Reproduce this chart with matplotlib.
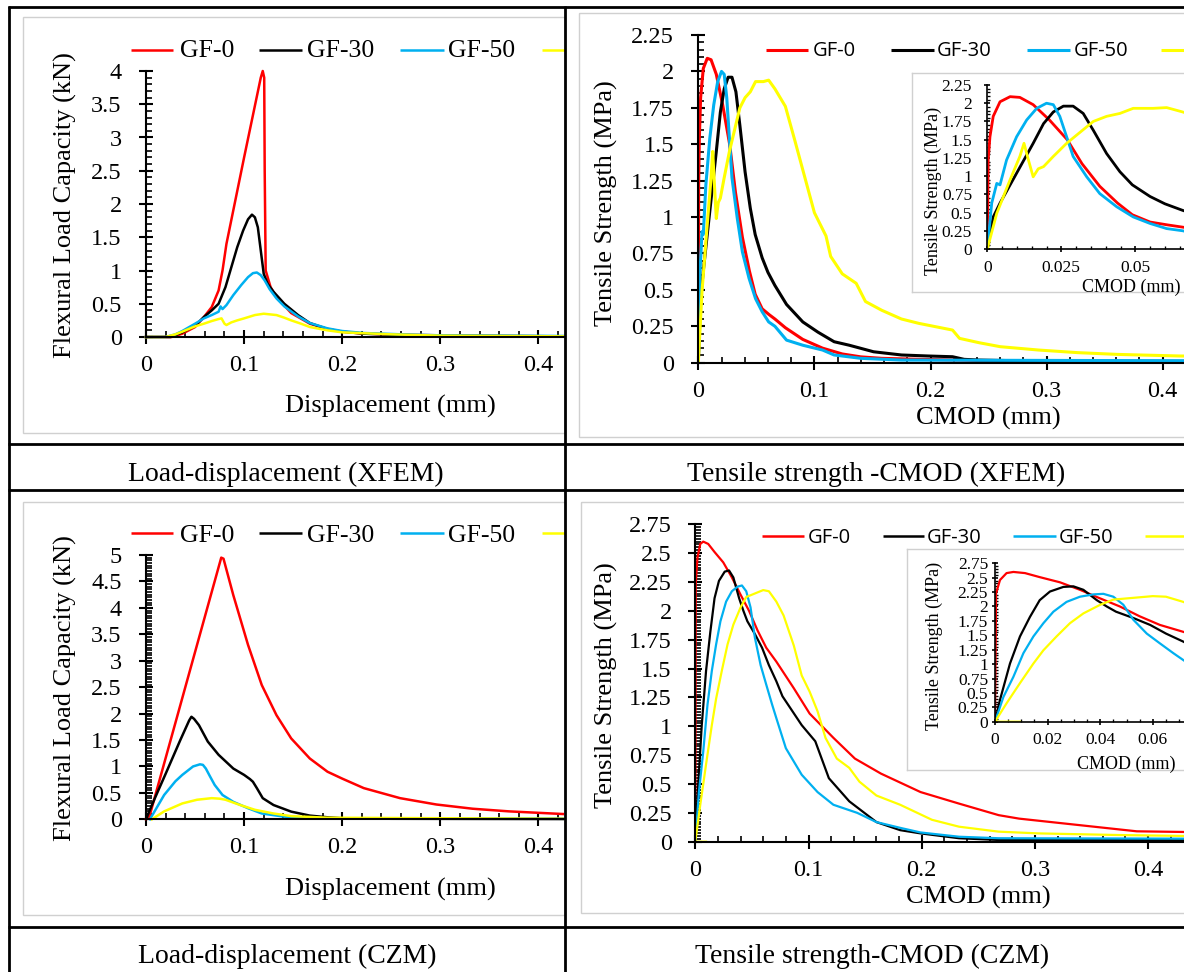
import matplotlib
matplotlib.use('Agg')
import matplotlib.pyplot as plt
from matplotlib.ticker import MultipleLocator, FuncFormatter
from matplotlib.patches import Rectangle

W, H = 1184, 972

# ---- data ----
series_names = ['GF-0', 'GF-30', 'GF-50']
series_colors = ['#FF0000', '#000000', '#00B0F0', '#FFFF00']

# Load-displacement (XFEM)
xa_gf0 = [0, 0.026, 0.037, 0.05, 0.059, 0.067, 0.074, 0.078, 0.082, 0.1, 0.117, 0.119, 0.1205, 0.121, 0.122,
          0.127, 0.133, 0.148, 0.167, 0.185, 0.2, 0.222, 0.26, 0.3, 0.35, 0.425]
ya_gf0 = [0, 0, 0.05, 0.15, 0.3, 0.45, 0.7, 1.0, 1.4, 2.7, 3.9, 4.0, 3.9, 2.5, 1.0,
          0.75, 0.6, 0.36, 0.2, 0.12, 0.08, 0.05, 0.035, 0.025, 0.015, 0.01]
xa_gf30 = [0, 0.025, 0.037, 0.05, 0.059, 0.067, 0.074, 0.081, 0.087, 0.093, 0.099, 0.104, 0.108, 0.111, 0.114,
           0.117, 0.12, 0.124, 0.13, 0.141, 0.155, 0.167, 0.185, 0.2, 0.222, 0.26, 0.3, 0.425]
ya_gf30 = [0, 0, 0.07, 0.17, 0.3, 0.4, 0.5, 0.75, 1.05, 1.35, 1.6, 1.77, 1.84, 1.8, 1.65,
           1.3, 0.95, 0.8, 0.68, 0.5, 0.33, 0.21, 0.12, 0.08, 0.05, 0.03, 0.02, 0.01]
xa_gf50 = [0, 0.02, 0.03, 0.037, 0.05, 0.059, 0.067, 0.074, 0.076, 0.078, 0.082, 0.089, 0.097, 0.104, 0.109,
           0.113, 0.117, 0.121, 0.126, 0.133, 0.141, 0.155, 0.167, 0.185, 0.2, 0.222, 0.26, 0.3, 0.425]
ya_gf50 = [0, 0, 0.04, 0.09, 0.2, 0.28, 0.33, 0.38, 0.46, 0.42, 0.48, 0.63, 0.78, 0.9, 0.96,
           0.97, 0.93, 0.85, 0.72, 0.58, 0.46, 0.31, 0.21, 0.13, 0.09, 0.06, 0.04, 0.025, 0.015]
xa_gfy = [0, 0.02, 0.03, 0.037, 0.05, 0.059, 0.067, 0.074, 0.077, 0.08, 0.082, 0.087, 0.093, 0.1, 0.111,
          0.12, 0.133, 0.141, 0.148, 0.158, 0.167, 0.185, 0.2, 0.25, 0.3, 0.425]
ya_gfy = [0, 0, 0.04, 0.08, 0.16, 0.2, 0.24, 0.27, 0.28, 0.2, 0.18, 0.22, 0.25, 0.28, 0.33,
          0.35, 0.33, 0.29, 0.25, 0.2, 0.15, 0.1, 0.07, 0.04, 0.02, 0.01]

# Tensile strength - CMOD (XFEM)
xb_gf0 = [0, 0.0003, 0.0009, 0.002, 0.0043, 0.0077, 0.011, 0.0155, 0.021, 0.027, 0.032, 0.038, 0.044, 0.049,
          0.055, 0.061, 0.066, 0.075, 0.09, 0.107, 0.124, 0.14, 0.158, 0.19, 0.225, 0.26, 0.35, 0.5]
yb_gf0 = [0, 1.22, 1.54, 1.82, 2.02, 2.09, 2.08, 1.98, 1.77, 1.5, 1.17, 0.86, 0.63, 0.47,
          0.37, 0.33, 0.3, 0.24, 0.16, 0.1, 0.06, 0.04, 0.03, 0.023, 0.018, 0.01, 0.005, 0.003]
xb_gf30 = [0, 0.002, 0.0043, 0.0099, 0.0155, 0.019, 0.0223, 0.0257, 0.029, 0.0324, 0.0358, 0.0403, 0.0448,
           0.049, 0.055, 0.06, 0.066, 0.076, 0.09, 0.103, 0.117, 0.13, 0.151, 0.175, 0.198, 0.219, 0.229,
           0.242, 0.293, 0.5]
yb_gf30 = [0, 0.44, 0.63, 1.04, 1.45, 1.72, 1.88, 1.96, 1.96, 1.86, 1.63, 1.31, 1.06,
           0.88, 0.72, 0.62, 0.53, 0.4, 0.28, 0.21, 0.144, 0.12, 0.075, 0.053, 0.046, 0.041, 0.023,
           0.018, 0.011, 0.008]
xb_gf50 = [0, 0.0015, 0.0032, 0.0043, 0.0065, 0.0099, 0.0133, 0.0167, 0.02, 0.0223, 0.0245, 0.0268, 0.029,
           0.0336, 0.038, 0.0437, 0.0493, 0.055, 0.0606, 0.066, 0.076, 0.09, 0.107, 0.117, 0.14, 0.175, 0.5]
yb_gf50 = [0, 0.63, 0.9, 0.88, 1.22, 1.54, 1.77, 1.93, 2.0, 1.98, 1.82, 1.54, 1.27,
           0.99, 0.76, 0.58, 0.44, 0.35, 0.28, 0.25, 0.155, 0.12, 0.087, 0.053, 0.03, 0.018, 0.012]
xb_gfy = [0, 0.0032, 0.0077, 0.011, 0.0124, 0.0139, 0.0155, 0.0172, 0.019, 0.0223, 0.0268, 0.0313, 0.0358,
          0.0403, 0.0448, 0.0493, 0.056, 0.0606, 0.066, 0.075, 0.083, 0.0915, 0.1, 0.11, 0.114, 0.124, 0.136,
          0.144, 0.158, 0.175, 0.19, 0.219, 0.225, 0.242, 0.26, 0.293, 0.327, 0.361, 0.415, 0.5]
yb_gfy = [0, 0.49, 0.95, 1.27, 1.45, 1.22, 0.99, 1.1, 1.13, 1.27, 1.45, 1.6, 1.75,
          1.82, 1.86, 1.93, 1.93, 1.94, 1.88, 1.76, 1.53, 1.28, 1.03, 0.87, 0.73, 0.61, 0.545,
          0.42, 0.36, 0.3, 0.27, 0.224, 0.167, 0.137, 0.11, 0.087, 0.069, 0.057, 0.046, 0.04]

# Load-displacement (CZM)
xc_gf0 = [0, 0.003, 0.0767, 0.079, 0.089, 0.104, 0.118, 0.133, 0.148, 0.167, 0.185, 0.2, 0.222, 0.259,
          0.296, 0.333, 0.37, 0.425]
yc_gf0 = [0, 0.02, 4.95, 4.93, 4.24, 3.3, 2.54, 1.97, 1.53, 1.15, 0.9, 0.77, 0.59, 0.4,
          0.28, 0.2, 0.15, 0.1]
xc_gf30 = [0, 0.0074, 0.02, 0.035, 0.044, 0.0463, 0.049, 0.054, 0.063, 0.074, 0.089, 0.1, 0.106, 0.109,
           0.113, 0.119, 0.13, 0.148, 0.167, 0.185, 0.2, 0.25, 0.425]
yc_gf30 = [0, 0.33, 0.86, 1.5, 1.87, 1.94, 1.9, 1.78, 1.47, 1.22, 0.96, 0.84, 0.76, 0.71,
           0.59, 0.4, 0.27, 0.145, 0.07, 0.038, 0.02, 0.01, 0.005]
xc_gf50 = [0.004, 0.0185, 0.03, 0.037, 0.048, 0.055, 0.058, 0.061, 0.065, 0.07, 0.078, 0.089, 0.104, 0.118,
           0.141, 0.167, 0.425]
yc_gf50 = [0, 0.46, 0.72, 0.84, 1.0, 1.04, 1.03, 0.96, 0.82, 0.65, 0.46, 0.33, 0.21, 0.11,
           0.05, 0.02, 0.01]
xc_gfy = [0.006, 0.0185, 0.037, 0.052, 0.067, 0.075, 0.081, 0.096, 0.111, 0.13, 0.148, 0.185, 0.425]
yc_gfy = [0, 0.15, 0.3, 0.37, 0.4, 0.39, 0.37, 0.27, 0.18, 0.11, 0.06, 0.03, 0.01]

# Tensile strength - CMOD (CZM)
xd_gf0 = [0, 0.0004, 0.0019, 0.0044, 0.007, 0.0114, 0.017, 0.0247, 0.0323, 0.04, 0.0475, 0.055, 0.0627,
          0.0716, 0.087, 0.101, 0.122, 0.141, 0.164, 0.199, 0.233, 0.268, 0.286, 0.338, 0.39, 0.5]
yd_gf0 = [0, 2.23, 2.46, 2.58, 2.6, 2.58, 2.51, 2.42, 2.29, 2.14, 2.0, 1.83, 1.68,
          1.56, 1.33, 1.11, 0.9, 0.72, 0.59, 0.43, 0.33, 0.23, 0.2, 0.145, 0.09, 0.075]
xd_gf30 = [0, 0.0019, 0.0057, 0.0095, 0.0133, 0.017, 0.0209, 0.026, 0.0298, 0.0336, 0.0387, 0.0425, 0.046,
           0.0526, 0.059, 0.065, 0.0716, 0.077, 0.094, 0.106, 0.118, 0.136, 0.16, 0.181, 0.199, 0.233,
           0.268, 0.5]
yd_gf30 = [0, 0.38, 1.01, 1.48, 1.82, 2.11, 2.26, 2.34, 2.35, 2.29, 2.11, 2.0, 1.91,
           1.8, 1.68, 1.53, 1.39, 1.26, 1.01, 0.87, 0.55, 0.35, 0.17, 0.1, 0.072, 0.03,
           0.015, 0.012]
xd_gf50 = [0, 0.0032, 0.007, 0.0108, 0.0146, 0.0184, 0.0222, 0.0272, 0.0323, 0.0374, 0.0412, 0.045, 0.0488,
           0.0526, 0.0577, 0.0627, 0.0678, 0.0716, 0.08, 0.094, 0.108, 0.122, 0.143, 0.16, 0.181, 0.199,
           0.233, 0.268, 0.5]
yd_gf50 = [0, 0.43, 0.78, 1.19, 1.48, 1.71, 1.91, 2.08, 2.17, 2.21, 2.22, 2.17, 2.03,
           1.77, 1.53, 1.36, 1.19, 1.07, 0.81, 0.58, 0.43, 0.32, 0.25, 0.17, 0.12, 0.08,
           0.043, 0.03, 0.025]
xd_gfy = [0.0095, 0, 0.0044, 0.0095, 0.0146, 0.0184, 0.0234, 0.0285, 0.0336, 0.04, 0.045, 0.05, 0.055, 0.06,
          0.065, 0.0716, 0.078, 0.087, 0.094, 0.101, 0.108, 0.115, 0.125, 0.136, 0.145, 0.16, 0.181, 0.209,
          0.233, 0.268, 0.303, 0.373, 0.5]
yd_gfy = [0, 0, 0.32, 0.67, 1.01, 1.24, 1.48, 1.71, 1.88, 2.03, 2.12, 2.14, 2.16, 2.18,
          2.17, 2.08, 1.96, 1.7, 1.44, 1.3, 1.13, 0.9, 0.72, 0.64, 0.52, 0.4, 0.32, 0.19,
          0.13, 0.087, 0.072, 0.058, 0.04]

captions = ['Load-displacement (XFEM)', 'Tensile strength -CMOD (XFEM)',
            'Load-displacement (CZM)', 'Tensile strength-CMOD (CZM)']

plt.rcParams['font.family'] = ['Liberation Serif', 'DejaVu Serif']
fig = plt.figure(figsize=(W / 100, H / 100), dpi=100)
fmt = FuncFormatter(lambda v, p: f'{v:g}')


def px_axes(left, right, bottom, top):
    # pixel box (from top-left corner of the image) -> figure axes
    return fig.add_axes([left / W, 1 - bottom / H, (right - left) / W, (bottom - top) / H])


def style(ax, xmaj, xmin, ymaj, ymin, size, big, pads, lw=1.5):
    for s in ['top', 'right']:
        ax.spines[s].set_visible(False)
    for s in ['left', 'bottom']:
        ax.spines[s].set_linewidth(lw)
    ax.patch.set_visible(False)
    ax.xaxis.set_major_locator(MultipleLocator(xmaj))
    ax.xaxis.set_minor_locator(MultipleLocator(xmin))
    ax.yaxis.set_major_locator(MultipleLocator(ymaj))
    ax.yaxis.set_minor_locator(MultipleLocator(ymin))
    ax.xaxis.set_major_formatter(fmt)
    ax.yaxis.set_major_formatter(fmt)
    maj = 10 if big else 4
    mnr = 4.5 if big else 2.5
    ax.tick_params(which='major', direction='inout', length=maj, width=lw, labelsize=size)
    ax.tick_params(which='minor', direction='in', length=mnr, width=lw * 0.8)
    ax.tick_params(axis='x', which='major', pad=pads[0])
    ax.tick_params(axis='y', which='major', pad=pads[1])


def labels(ax, box, xlab, ylab, xpos, ypos, size):
    left, right, bottom, top = box
    ax.set_xlabel(xlab, fontsize=size, va='center')
    ax.set_ylabel(ylab, fontsize=size, va='center')
    ax.xaxis.set_label_coords((xpos[0] - left) / (right - left), (bottom - xpos[1]) / (bottom - top))
    ax.yaxis.set_label_coords((ypos[0] - left) / (right - left), (bottom - ypos[1]) / (bottom - top))


def curves(ax, xs, ys, lw, clip=True):
    for x, y, c in zip(xs, ys, series_colors):
        ax.plot(x, y, color=c, lw=lw, clip_on=clip, solid_joinstyle='round')


# background: light grey chart-area frames
bg = fig.add_axes([0, 0, 1, 1])
bg.set_xlim(0, W)
bg.set_ylim(H, 0)
bg.axis('off')
for (x0, y0, x1, y1) in [(23, 17, 565, 433), (579, 13, 1195, 436.7), (23, 501.7, 565, 915),
                         (580.8, 501.7, 1195, 913)]:
    bg.add_patch(Rectangle((x0, y0), x1 - x0, y1 - y0, fill=False, ec='#D0D0D0', lw=1.0))

# the charts are cropped by the table cells: each x axis stops at the cell / image edge
# panel A
xmaxA = (565 - 146) / 981
boxA = (146, 565, 337, 71)
axA = px_axes(*boxA)
curves(axA, [xa_gf0, xa_gf30, xa_gf50, xa_gfy], [ya_gf0, ya_gf30, ya_gf50, ya_gfy], 1.8, clip=False)
axA.set_xlim(0, xmaxA)
axA.set_ylim(0, 4)
style(axA, 0.1, 0.02, 0.5, 0.1, 17.5, True, (8, 12.5))
labels(axA, boxA, 'Displacement (mm)', 'Flexural Load Capacity (kN)', (390, 406), (65, 205), 19)

# panel B
xmaxB = (W - 698.3) / 1161
boxB = (698.3, W, 362.7, 35)
axB = px_axes(*boxB)
curves(axB, [xb_gf0, xb_gf30, xb_gf50, xb_gfy], [yb_gf0, yb_gf30, yb_gf50, yb_gfy], 2.2)
axB.set_xlim(0, xmaxB)
axB.set_ylim(0, 2.25)
style(axB, 0.1, 0.02, 0.25, 0.05, 17.5, True, (8, 12.5))
labels(axB, boxB, 'CMOD (mm)', 'Tensile Strength (MPa)', (988.5, 418), (606.5, 203.5), 19)

# panel C
boxC = (146, 565, 819.3, 555)
axC = px_axes(*boxC)
curves(axC, [xc_gf0, xc_gf30, xc_gf50, xc_gfy], [yc_gf0, yc_gf30, yc_gf50, yc_gfy], 1.8, clip=False)
axC.set_xlim(0, xmaxA)
axC.set_ylim(0, 5)
style(axC, 0.1, 0.02, 0.5, 0.05, 17.5, True, (8, 12.5))
labels(axC, boxC, 'Displacement (mm)', 'Flexural Load Capacity (kN)', (390, 889), (65, 688), 19)

# panel D
xmaxD = (W - 695.3) / 1132
boxD = (695.3, W, 841.7, 524.3)
axD = px_axes(*boxD)
curves(axD, [xd_gf0, xd_gf30, xd_gf50, xd_gfy], [yd_gf0, yd_gf30, yd_gf50, yd_gfy], 1.6)
axD.set_xlim(0, xmaxD)
axD.set_ylim(0, 2.75)
style(axD, 0.1, 0.02, 0.25, 0.025, 17.5, True, (8, 12))
labels(axD, boxD, 'CMOD (mm)', 'Tensile Strength (MPa)', (978.6, 897), (606.5, 685), 19)

# insets (white chart area with grey frame, then the zoomed axes)
for (x0, y0, y1) in [(911.7, 73.3, 292), (907, 549, 770)]:
    fr = px_axes(x0, 1200, y1, y0)
    fr.set_xticks([])
    fr.set_yticks([])
    for s in fr.spines.values():
        s.set_edgecolor('#D0D0D0')
        s.set_linewidth(1.0)

boxBi = (987.3, W, 249, 85)
axBi = px_axes(*boxBi)
curves(axBi, [xb_gf0, xb_gf30, xb_gf50, xb_gfy], [yb_gf0, yb_gf30, yb_gf50, yb_gfy], 2.0)
axBi.set_xlim(0, (W - 987.3) / 2960)
axBi.set_ylim(0, 2.25)
style(axBi, 0.025, 0.005, 0.25, 0.05, 12.5, False, (6, 9), lw=1.2)
labels(axBi, boxBi, 'CMOD (mm)', 'Tensile Strength (MPa)', (1131.5, 287), (933, 191), 13)

boxDi = (995, W, 721.7, 563.3)
axDi = px_axes(*boxDi)
curves(axDi, [xd_gf0, xd_gf30, xd_gf50, xd_gfy], [yd_gf0, yd_gf30, yd_gf50, yd_gfy], 1.6)
axDi.set_xlim(0, (W - 995) / 2630)
axDi.set_ylim(0, 2.75)
style(axDi, 0.02, 0.005, 0.25, 0.05, 12.5, False, (5.5, 3), lw=1.2)
labels(axDi, boxDi, 'CMOD (mm)', 'Tensile Strength (MPa)', (1126.5, 764), (934, 646), 13)

# overlay: legends, table rules, captions
top = fig.add_axes([0, 0, 1, 1])
top.set_xlim(0, W)
top.set_ylim(H, 0)
top.axis('off')

leg_serif = [(131, 173, 180), (259, 302, 307), (400, 444, 448), (542, 565, None)]
leg_sans_b = [(766, 808, 813), (891, 934, 937), (1027, 1070, 1074), (1161, 1190, None)]
leg_sans_d = [(762, 804, 808), (883, 924, 927), (1013, 1056, 1059), (1145, 1190, None)]
for entries, ly, base, fam, fs, lw in [(leg_serif, 50, 57, ['Liberation Serif'], 18.5, 1.8),
                                       (leg_sans_b, 50, 56.5, ['Open Sans', 'DejaVu Sans'], 14.5, 2.2),
                                       (leg_serif, 533.3, 541.7, ['Liberation Serif'], 18.5, 1.8),
                                       (leg_sans_d, 535.7, 543.3, ['Open Sans', 'DejaVu Sans'], 14.5, 1.8)]:
    for i, (x0, x1, tx) in enumerate(entries):
        top.plot([x0, x1], [ly, ly], color=series_colors[i], lw=lw, solid_capstyle='butt')
        if tx is not None:
            top.text(tx, base, series_names[i], fontsize=fs, family=fam, ha='left', va='baseline')

rule = dict(color='black', lw=2.0, solid_capstyle='butt')
top.plot([8.5, 8.5], [6, H], **rule)
top.plot([565, 565], [6, H], **rule)
for yy in [7.5, 444, 490, 926.5]:
    top.plot([7.5, W], [yy, yy], **rule)

for (cx, cy), txt in zip([(286, 481), (876.5, 481), (287.5, 963), (872, 963)], captions):
    top.text(cx, cy, txt, fontsize=20, ha='center', va='baseline', family=['Liberation Serif'])

fig.savefig('out.png', dpi=100)
